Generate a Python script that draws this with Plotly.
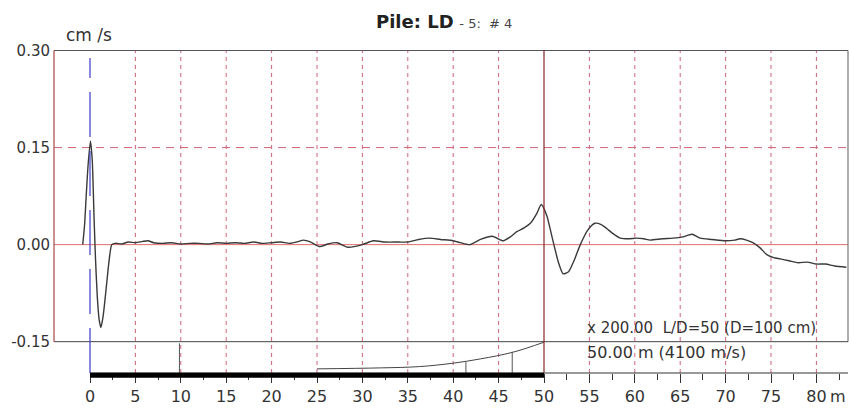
import plotly.graph_objects as go

# ---------------- data ----------------
depth_m = [-0.8, -0.6, -0.4, -0.2, 0.05, 0.25, 0.45, 0.6, 0.8, 1.0, 1.2, 1.45, 1.8, 2.1, 2.4, 2.8,
           3.5, 4.2, 5.0, 5.8, 6.4, 7.0, 8.0, 9.0, 10, 11, 12, 13, 14, 15, 16, 17, 18, 19,
           20, 21, 22, 23, 23.5, 24.3, 25.3, 26.2, 27.2, 28.4, 30, 31.2, 32.5, 34, 35,
           36.2, 37.4, 38.6, 40, 40.8, 41.8, 43, 44.3, 45.5, 46.3, 47, 47.8, 48.5, 49.2,
           49.7, 50.3, 51, 51.6, 52.1, 52.7, 53.3, 54, 54.8, 55.6, 56.3, 56.9, 57.6, 58.4,
           59.3, 60.2, 61, 61.7, 63, 64.2, 65.3, 66.3, 67.2, 68.5, 70, 71, 71.6, 72.3, 73,
           73.8, 74.5, 75.3, 76, 77, 78, 79, 80, 81, 82, 83.3]
velocity = [0.0, 0.03, 0.08, 0.125, 0.16, 0.13, 0.04, -0.02, -0.08, -0.115, -0.128, -0.11,
            -0.065, -0.025, 0.0, 0.002, 0.001, 0.004, 0.003, 0.005, 0.006, 0.003, 0.002, 0.003,
            0.001, 0.002, 0.002, 0.001, 0.003, 0.002, 0.003, 0.002, 0.004, 0.002, 0.003,
            0.004, 0.002, 0.005, 0.007, 0.004, -0.003, 0.001, 0.003, -0.004, 0.0, 0.006,
            0.004, 0.004, 0.004, 0.008, 0.010, 0.008, 0.006, 0.003, 0.0, 0.008, 0.013,
            0.006, 0.012, 0.02, 0.026, 0.033, 0.048, 0.062, 0.045, 0.005, -0.028, -0.045,
            -0.042, -0.025, 0.0, 0.022, 0.033, 0.031, 0.025, 0.017, 0.01, 0.009, 0.01,
            0.009, 0.007, 0.009, 0.01, 0.012, 0.016, 0.01, 0.008, 0.006, 0.007, 0.009,
            0.007, 0.003, -0.005, -0.015, -0.02, -0.022, -0.025, -0.028, -0.027, -0.03,
            -0.03, -0.033, -0.035]

# amplification curve drawn in the lower strip
amp_m = [25, 32, 36.3, 40, 43, 46.6, 50]
amp_v = [-0.192, -0.1905, -0.1885, -0.1832, -0.1766, -0.1662, -0.1508]

# small vertical marks in the lower strip
mark_m = [9.85, 41.4, 46.5]
mark_top = [-0.1525, -0.1815, -0.1655]

pile_length = 50
x_ticks = list(range(0, 85, 5))
y_ticks = [-0.15, 0.00, 0.15, 0.30]
y_tick_text = ["-0.15", "0.00", "0.15", "0.30"]
grid_x = [v for v in x_ticks if v not in (0, pile_length)]

# ---------------- figure ----------------
X0, X1 = -3.965, 83.48
Y0, Y1 = -0.1984, 0.3008
FONT = "DejaVu Sans, Verdana, sans-serif"
GRID = "rgb(210,100,120)"

fig = go.Figure()

fig.add_trace(go.Scatter(x=depth_m, y=velocity, mode="lines",
                         line=dict(color="#3a3a3a", width=1.4, shape="spline", smoothing=0.6),
                         hoverinfo="skip", showlegend=False))
fig.add_trace(go.Scatter(x=amp_m, y=amp_v, mode="lines",
                         line=dict(color="#444", width=1, shape="spline"),
                         hoverinfo="skip", showlegend=False))
mx, my = [], []
for m, t in zip(mark_m, mark_top):
    mx += [m, m, None]
    my += [t, Y0, None]
fig.add_trace(go.Scatter(x=mx, y=my, mode="lines", line=dict(color="#555", width=1),
                         hoverinfo="skip", showlegend=False))

shapes = []
# vertical dashed grid
for g in grid_x:
    shapes.append(dict(type="line", xref="x", yref="paper", x0=g, x1=g, y0=0, y1=1,
                       line=dict(color=GRID, width=1, dash="4px,4px"), layer="below"))
# 0.15 dashed horizontal
shapes.append(dict(type="line", xref="paper", yref="y", x0=0, x1=1, y0=0.15, y1=0.15,
                   line=dict(color=GRID, width=1, dash="8px,6px"), layer="below"))
# zero line
shapes.append(dict(type="line", xref="paper", yref="y", x0=0, x1=1, y0=0, y1=0,
                   line=dict(color="rgb(225,110,110)", width=1), layer="below"))
# box: top, right, bottom (-0.15), left (reddish)
shapes.append(dict(type="line", xref="paper", yref="y", x0=0, x1=1, y0=0.3, y1=0.3,
                   line=dict(color="#555", width=1.2)))
shapes.append(dict(type="line", xref="paper", yref="y", x0=1, x1=1, y0=-0.15, y1=0.3,
                   line=dict(color="#777", width=1.2)))
shapes.append(dict(type="line", xref="paper", yref="y", x0=0, x1=1, y0=-0.15, y1=-0.15,
                   line=dict(color="#444", width=1)))
shapes.append(dict(type="line", xref="paper", yref="y", x0=0, x1=0, y0=-0.15, y1=0.3,
                   line=dict(color="rgb(170,70,70)", width=1.2)))
# pile toe line
shapes.append(dict(type="line", xref="x", yref="paper", x0=pile_length, x1=pile_length,
                   y0=0, y1=1, line=dict(color="rgb(130,40,40)", width=1.2)))
# blue dashed line at 0
shapes.append(dict(type="line", xref="x", yref="paper", x0=0, x1=0, y0=0, y1=0.975,
                   line=dict(color="rgb(60,60,200)", width=1.2, dash="45px,14px")))
# axis line and thick pile bar
shapes.append(dict(type="line", xref="x", yref="paper", x0=0, x1=X1, y0=0, y1=0,
                   line=dict(color="#333", width=1)))
shapes.append(dict(type="line", xref="x", yref="paper", x0=0, x1=pile_length,
                   y0=-0.007, y1=-0.007, line=dict(color="#000", width=5)))

annotations = [
    dict(xref="paper", yref="paper", x=(374 - 54) / 794, y=1.0867, xanchor="left",
         yanchor="middle", showarrow=False,
         text="<b>Pile: LD</b> <span style='font-size:13px;color:#444'>- 5:&nbsp; # 4</span>",
         font=dict(family=FONT, size=18, color="#222")),
    dict(xref="paper", yref="paper", x=(64 - 54) / 794, y=1.045, xanchor="left",
         yanchor="middle", showarrow=False, text="cm /s",
         font=dict(family=FONT, size=17, color="#333")),
    dict(xref="x", yref="y", x=54.5, y=-0.1287, xanchor="left", yanchor="middle",
         showarrow=False, text="x 200.00  L/D=50 (D=100 cm)",
         font=dict(family=FONT, size=15, color="#333")),
    dict(xref="x", yref="y", x=54.5, y=-0.1673, xanchor="left", yanchor="middle",
         showarrow=False, text="50.00 m (4100 m/s)",
         font=dict(family=FONT, size=16, color="#333")),
    dict(xref="paper", yref="paper", x=(838 - 54) / 794, y=-0.074, xanchor="center",
         yanchor="middle", showarrow=False, text="m",
         font=dict(family=FONT, size=16, color="#333")),
]

fig.update_layout(
    width=850, height=408,
    margin=dict(l=54, r=2, t=50, b=35),
    paper_bgcolor="white", plot_bgcolor="white",
    shapes=shapes, annotations=annotations, showlegend=False,
    xaxis=dict(range=[X0, X1], tickvals=x_ticks, ticktext=[str(v) for v in x_ticks],
               ticks="outside", ticklen=9, tickcolor="#333", tickwidth=1,
               minor=dict(tickvals=[v + 2.5 for v in x_ticks], ticks="outside",
                          ticklen=6, tickcolor="#333"),
               showgrid=False, zeroline=False, showline=False,
               tickfont=dict(family=FONT, size=16, color="#333")),
    yaxis=dict(range=[Y0, Y1], tickvals=y_ticks, ticktext=y_tick_text,
               ticks="", showgrid=False, zeroline=False, showline=False,
               ticklabelstandoff=3,
               tickfont=dict(family=FONT, size=15, color="#333")),
)

fig.write_html("out.html")
